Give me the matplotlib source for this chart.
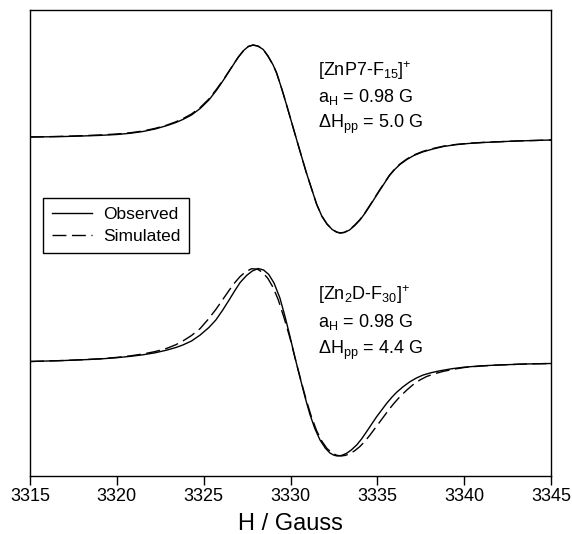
import numpy as np
import matplotlib.pyplot as plt

# EPR derivative spectra (y in arbitrary units)
top_obs_x = [3315.0, 3316.0, 3317.0, 3318.0, 3319.0, 3320.0, 3320.8, 3321.5, 3322.2, 3322.9,
             3323.4, 3323.8, 3324.3, 3324.8, 3325.3, 3325.75, 3326.2, 3326.7, 3327.0, 3327.3,
             3327.57, 3327.85, 3328.14, 3328.43, 3328.7, 3329.0, 3329.2, 3329.5, 3329.8, 3330.35,
             3330.9, 3331.5, 3331.8, 3332.1, 3332.4, 3332.65, 3332.85, 3333.1, 3333.4, 3333.7,
             3334.0, 3334.3, 3334.6, 3335.15, 3335.7, 3336.0, 3336.3, 3336.7, 3337.1, 3337.6,
             3338.2, 3338.8, 3339.5, 3340.3, 3341.1, 3343.0, 3345.0]
top_obs_y = [339, 339.2, 339.5, 340, 340.6, 341.5, 342.8, 344.5, 347, 350.5,
             353.5, 356.5, 361, 367.5, 376, 386, 397.5, 411, 419, 425.5,
             429.5, 431, 429.8, 426.5, 420, 411, 403, 387, 369.5, 336.5,
             304, 272, 260, 252, 246.5, 244, 243, 243.5, 246, 250.5,
             256, 263, 271, 286, 300.5, 306.5, 311.5, 316.5, 320.5, 324,
             327, 329.5, 331.3, 332.6, 333.5, 335, 336]

top_sim_x = top_obs_x
top_sim_y = [339, 339.3, 339.7, 340.3, 341, 342, 343.3, 345, 347.6, 351,
             354.2, 357.3, 362, 368.5, 377, 387, 398, 411.3, 419, 425.5,
             429.5, 431, 429.8, 426.5, 420, 411, 403, 387, 369.5, 336.5,
             304, 272, 260, 252, 246.5, 244, 243, 243.7, 246.3, 251,
             256.5, 263.5, 271.5, 286.5, 300.8, 307, 312, 317, 321, 324.5,
             327.5, 329.8, 331.5, 332.8, 333.6, 335, 336]

bot_obs_x = [3315.0, 3316.0, 3317.0, 3318.0, 3319.0, 3320.0, 3320.8, 3321.5, 3322.2, 3322.9,
             3323.4, 3323.8, 3324.3, 3324.8, 3325.3, 3325.7, 3326.1, 3326.5, 3326.8, 3327.1,
             3327.47, 3327.8, 3328.14, 3328.45, 3328.75, 3329.05, 3329.39, 3329.7, 3329.97, 3330.25,
             3330.54, 3330.85, 3331.12, 3331.4, 3331.7, 3332.0, 3332.27, 3332.5, 3332.7, 3332.95,
             3333.23, 3333.5, 3333.81, 3334.1, 3334.38, 3334.96, 3335.54, 3335.85, 3336.11, 3336.5,
             3336.88, 3337.25, 3337.64, 3338.1, 3338.6, 3339.3, 3340.0, 3341.0, 3342.0, 3343.5,
             3345.0]
bot_obs_y = [114.5, 115, 115.5, 116.2, 117, 118.3, 119.7, 121.2, 123.2, 126,
             128.5, 131, 135, 141, 148.5, 156, 166, 177, 185.5, 193.5,
             200.5, 205, 207.5, 206, 201.5, 193, 178, 158.5, 139.5, 119,
             99, 78, 61.5, 47.5, 36, 28, 23, 20.8, 20, 20.6,
             22.7, 26, 31, 37.2, 44.3, 59.3, 72.7, 79, 83.7, 89.5,
             94.3, 98, 101, 103.3, 105.2, 107.3, 108.8, 110.2, 111, 112,
             112.5]

bot_sim_x = [3315.0, 3316.0, 3317.0, 3318.0, 3319.0, 3320.0, 3320.8, 3321.5, 3322.2, 3322.9,
             3323.4, 3323.8, 3324.3, 3324.8, 3325.25, 3325.7, 3326.1, 3326.5, 3326.8, 3327.1,
             3327.4, 3327.76, 3328.1, 3328.4, 3328.7, 3329.0, 3329.3, 3329.65, 3329.97, 3330.3,
             3330.6, 3330.9, 3331.2, 3331.5, 3331.8, 3332.1, 3332.4, 3332.65, 3332.9, 3333.15,
             3333.42, 3333.7, 3334.0, 3334.3, 3334.57, 3335.15, 3335.73, 3336.0, 3336.3, 3336.7,
             3337.07, 3337.45, 3337.84, 3338.3, 3338.79, 3339.4, 3340.0, 3341.0, 3342.0, 3343.5,
             3345.0]
bot_sim_y = [114.5, 115, 115.5, 116.3, 117.2, 118.6, 120.2, 122, 124.4, 127.8,
             131.3, 135, 140.5, 147.5, 156.5, 166.5, 176.5, 186.5, 193.5, 199.5,
             204, 207.3, 206.8, 203.5, 197.5, 188.5, 176, 157, 138, 115.5,
             95.5, 76.5, 59.5, 45.5, 35, 27.5, 23, 20.8, 20, 20.6,
             22.3, 25.3, 29.5, 35, 40.8, 54.3, 67.8, 73.5, 79.3, 86,
             91.5, 96, 99.5, 102.3, 104.6, 106.8, 108.5, 110, 111, 112,
             112.5]

top_labels = [r'[ZnP7-F$_\mathregular{15}$]$^\mathregular{+}$',
              r'a$_\mathregular{H}$ = 0.98 G',
              r'$\mathregular{\Delta}$H$_\mathregular{pp}$ = 5.0 G']
bot_labels = [r'[Zn$_\mathregular{2}$D-F$_\mathregular{30}$]$^\mathregular{+}$',
              r'a$_\mathregular{H}$ = 0.98 G',
              r'$\mathregular{\Delta}$H$_\mathregular{pp}$ = 4.4 G']

plt.rcParams['font.family'] = ['Liberation Sans', 'DejaVu Sans']
plt.rcParams['mathtext.fontset'] = 'custom'
plt.rcParams['mathtext.rm'] = 'Liberation Sans'

fig = plt.figure(figsize=(5.72, 5.34), dpi=100)
ax = fig.add_axes([30/572, 58/534, 521/572, 466/534])

ax.plot(top_obs_x, top_obs_y, color='black', lw=1.0, label='Observed')
ax.plot(top_sim_x, top_sim_y, color='black', lw=1.0, dashes=(10, 4), label='Simulated')
ax.plot(bot_obs_x, bot_obs_y, color='black', lw=1.0)
ax.plot(bot_sim_x, bot_sim_y, color='black', lw=1.0, dashes=(10, 4))

# text blocks
for i, s in enumerate(top_labels):
    ax.text(3331.6, 400 - 26*i, s, fontsize=13, va='baseline', ha='left')
for i, s in enumerate(bot_labels):
    ax.text(3331.6, 176 - 27*i, s, fontsize=13, va='baseline', ha='left')

ax.set_xlim(3315, 3345)
ax.set_ylim(0, 466)
ax.set_xticks(np.arange(3315, 3346, 5))
ax.set_yticks([])
ax.tick_params(axis='x', direction='out', length=6.5, width=1, pad=2, labelsize=13)
for sp in ax.spines.values():
    sp.set_linewidth(1.0)
ax.set_xlabel('H / Gauss', fontsize=17, labelpad=6)

leg = ax.legend(loc='upper left', bbox_to_anchor=(0.025, 0.597), borderaxespad=0,
                fontsize=12.5, handlelength=2.3, handletextpad=0.65, labelspacing=0.42,
                borderpad=0.5, fancybox=False, framealpha=1, edgecolor='black')
leg.get_frame().set_linewidth(1.0)

fig.savefig('out.png', dpi=100)
